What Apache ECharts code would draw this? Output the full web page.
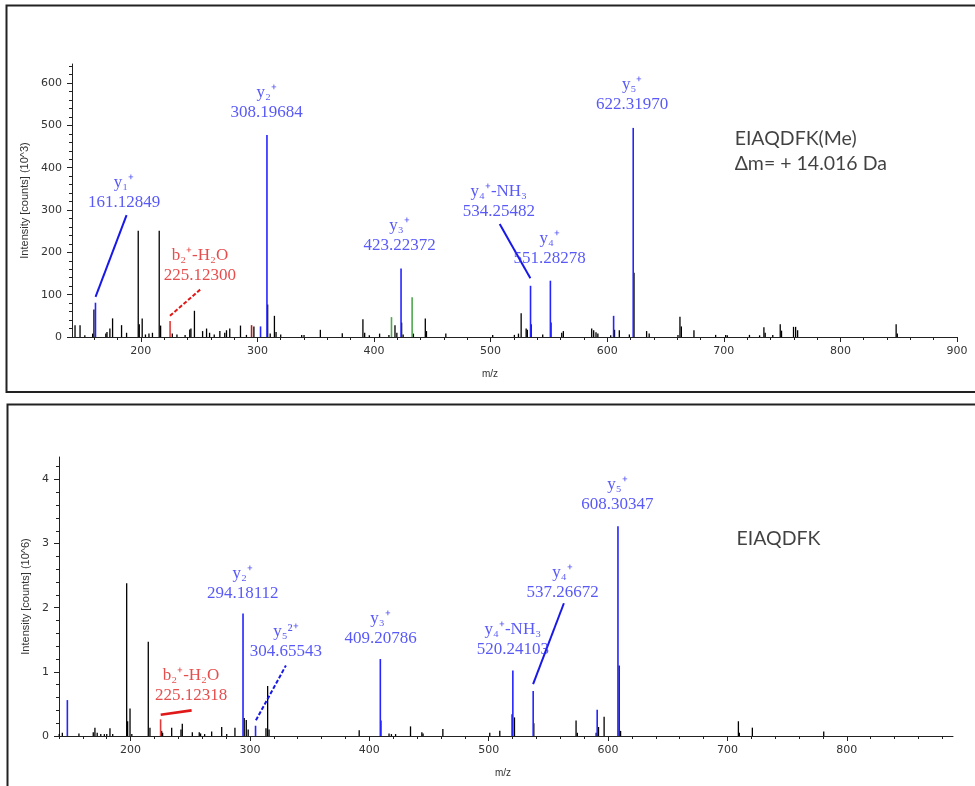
<!DOCTYPE html>
<html>
<head>
<meta charset="utf-8">
<title>EIAQDFK MS/MS spectra</title>
<script src="https://cdn.jsdelivr.net/npm/echarts@6.0.0/dist/echarts.min.js"></script>
<style>
html,body{margin:0;padding:0;background:#fff;}
#chart{width:975px;height:786px;}
</style>
</head>
<body>
<div id="chart"></div>
<script>
// ---- top spectrum: EIAQDFK(Me), intensity in 10^3 counts ----
var topBlack = [
  [143.6,28],[147.9,28],[152,4],[158.7,8],[159.8,65],[170,8],[171,12],[173.5,20],[175.8,44],
  [183.5,28],[187.8,10],[197.8,251],[198.7,30],[201.2,44],[204,6],[207,8],[210,10],[215.8,251],
  [217,27],[227,8],[231,6],[238,5],[242,18],[243,20],[246,62],[253,14],[256.4,20],[259,10],
  [263,6],[267.8,14],[272,10],[273.5,16],[276.3,20],[285.5,27],[290.6,5],[297,25],[308.8,77],
  [311,8],[314.6,50],[316,12],[320,6],[338,5],[340,5],[354,17],[372.8,9],[390.5,42],[392,10],
  [396,4],[404.8,8],[412.8,5],[418,28],[419.6,10],[423.7,34],[425,6],[433.8,8],[444,44],[445,14],
  [461.6,8],[501.8,5],[520.4,5],[523.9,8],[526.2,56],[530.5,20],[531.5,17],[534.8,30],[544.7,6],
  [551.8,34],[561,10],[562.4,14],[586.7,20],[588.4,16],[590.4,11],[592,8],[603,4],[606.3,17],
  [610.4,16],[619,6],[623,152],[633.8,14],[636,8],[660.7,5],[662.4,48],[663.6,25],[674.4,16],
  [693,5],[701.6,5],[703,4],[722,5],[730.7,4],[734.4,23],[735.5,10],[742,5],[748.4,30],[749.5,15],
  [759.8,24],[761.6,24],[763.3,16],[847.8,30],[848.8,8]
];
var topBlue = [[161.13,81],[302.7,25],[308.2,477],[423.2,162],[534.25,121],[551.28,133],[605.5,50],[622.32,494]];
var topRed = [[225.12,38]];
var topDarkRed = [[295,28]];
var topGreen = [[415,47],[432.7,94]];
// annotation anchors: [m/z, intensity, ion, mass]
var topLabels = [
  [185.6,341,'y₁⁺','161.12849'],
  [307.9,555,'y₂⁺','308.19684'],
  [250.7,169,'b₂⁺-H₂O','225.12300'],
  [421.9,239,'y₃⁺','423.22372'],
  [507,319,'y₄⁺-NH₃','534.25482'],
  [550.7,208,'y₄⁺','551.28278'],
  [621.4,573,'y₅⁺','622.31970']
];
// leader lines: [m/z from, int from, m/z to, int to, ion type]
var topLeaders = [
  [161.2,95,187.8,288,'y'],
  [225,50,252.2,115,'b'],
  [534.1,139,507.8,267,'y']
];
var topPeptide = [709.3,439,'EIAQDFK(Me)\nΔm= + 14.016 Da'];
var topXTicks = [200,300,400,500,600,700,800,900];
var topYTicks = [0,100,200,300,400,500,600];

// ---- bottom spectrum: EIAQDFK, intensity in 10^6 counts ----
var botBlack = [
  [140.2,0.03],[142.8,0.05],[156.7,0.04],[168.7,0.06],[170.1,0.13],[172,0.05],[175,0.03],[178,0.03],
  [180,0.03],[182.7,0.12],[185,0.03],[196.7,2.38],[197.5,0.23],[199.5,0.43],[201,0.03],[214.8,1.47],
  [216.2,0.13],[226,0.08],[226.8,0.05],[234.4,0.13],[242.2,0.1],[243.3,0.19],[251.7,0.06],[257.5,0.06],
  [258.6,0.04],[262,0.03],[267.9,0.07],[276.3,0.14],[280.5,0.03],[287.4,0.13],[295.2,0.28],[296.9,0.25],
  [298.5,0.1],[313.4,0.12],[314.8,0.78],[316,0.1],[391.5,0.09],[409.7,0.24],[416.5,0.04],[418.5,0.03],
  [422,0.03],[434.5,0.15],[444,0.06],[445,0.04],[461.6,0.11],[500.9,0.05],[509.3,0.08],[519.6,0.34],
  [521.6,0.29],[537.8,0.2],[573.2,0.24],[574.3,0.05],[590,0.05],[592,0.14],[596.7,0.3],[609.3,1.1],
  [610.5,0.08],[709.2,0.23],[710,0.05],[720.9,0.13],[780.7,0.07]
];
var botBlue = [[147,0.56],[294.18,1.91],[304.66,0.16],[409.21,1.2],[520.24,1.02],[537.27,0.7],[590.9,0.41],[608.3,3.27]];
var botRed = [[225.12,0.26]];
var botLabels = [
  [293.9,2.38,'y₂⁺','294.18112'],
  [330.1,1.47,'y₅²⁺','304.65543'],
  [250.6,0.78,'b₂⁺-H₂O','225.12318'],
  [409.4,1.68,'y₃⁺','409.20786'],
  [520.2,1.51,'y₄⁺-NH₃','520.24103'],
  [561.9,2.4,'y₄⁺','537.26672'],
  [607.8,3.76,'y₅⁺','608.30347']
];
var botLeaders = [
  [225.2,0.33,251.1,0.4,'b'],
  [305,0.245,330.1,1.1,'y'],
  [537.2,0.81,563,2.07,'y']
];
var botPeptide = [707.6,3.07,'EIAQDFK'];
var botXTicks = [200,300,400,500,600,700,800];
var botYTicks = [0,1,2,3,4];

var BLUE = '#2424ff', BLUE_TEXT = '#2f2ff5', RED = '#e03a3a', RED_TEXT = '#e02020';
var AXIS = '#222';

function minorTicks(min, max, step, majorStep) {
  var out = [];
  for (var v = Math.ceil(min / step) * step; v <= max + 1e-9; v += step) {
    var r = v / majorStep;
    if (Math.abs(r - Math.round(r)) > 1e-6) out.push(+v.toFixed(4));
  }
  return out;
}

function renderPeak(params, api) {
  var top = api.coord([api.value(0), api.value(1)]);
  var base = api.coord([api.value(0), 0]);
  return {
    type: 'line',
    shape: {x1: top[0], y1: top[1], x2: base[0], y2: base[1]},
    style: {stroke: api.visual('color'), lineWidth: params.seriesName === 'black' ? 1.3 : 1.6}
  };
}

function peaks(name, data, color, xi, yi) {
  return {
    name: name, type: 'custom', xAxisIndex: xi, yAxisIndex: yi,
    renderItem: renderPeak, itemStyle: {color: color}, data: data,
    encode: {x: 0, y: 1}, silent: true
  };
}

function labelSeries(labels, leaders, dashes, xi, yi) {
  return {
    type: 'scatter', xAxisIndex: xi, yAxisIndex: yi, symbolSize: 0, silent: true, z: 5,
    data: labels.map(function (a) {
      var red = a[2].charAt(0) === 'b';
      return {
        value: [a[0], a[1]], name: a[2] + '\n' + a[3],
        label: {color: red ? RED_TEXT : BLUE_TEXT}
      };
    }),
    label: {
      show: true, position: [0, 0], align: 'center', verticalAlign: 'middle',
      formatter: '{b}', fontFamily: 'Liberation Serif', fontSize: 17, lineHeight: 20
    },
    markLine: {
      silent: true, symbol: 'none', animation: false,
      label: {show: false},
      data: leaders.map(function (l, i) {
        var red = l[4] === 'b';
        return [
          {coord: [l[0], l[1]], lineStyle: {color: red ? '#e01818' : '#1818e8', width: red && !dashes[i] ? 2.6 : 2, type: dashes[i] ? [4, 2] : 'solid'}},
          {coord: [l[2], l[3]]}
        ];
      })
    }
  };
}

function peptideSeries(p, xi, yi) {
  return {
    type: 'scatter', xAxisIndex: xi, yAxisIndex: yi, symbolSize: 0, silent: true,
    data: [{value: [p[0], p[1]], name: p[2]}],
    label: {
      show: true, position: [0, 0], align: 'left', verticalAlign: 'middle', formatter: '{b}',
      fontFamily: 'Lato', fontSize: 19.5, lineHeight: 25, color: '#111'
    }
  };
}

function xAxes(grid, min, max, majors, name, padRight) {
  return [{
    type: 'value', gridIndex: grid, min: min, max: max, position: 'bottom',
    axisLine: {show: true, onZero: false, lineStyle: {color: AXIS, width: 1}},
    axisTick: {show: true, customValues: majors, length: 5, lineStyle: {color: AXIS}},
    axisLabel: {customValues: majors, margin: 9, fontFamily: 'DejaVu Sans', fontSize: 11, color: '#333'},
    splitLine: {show: false},
    name: name, nameLocation: 'middle', nameGap: 32,
    nameTextStyle: {fontFamily: 'Liberation Sans', fontSize: 10, color: '#333', padding: [0, padRight, 0, 0]}
  }, {
    type: 'value', gridIndex: grid, min: min, max: max, position: 'bottom',
    axisLine: {show: false, onZero: false},
    axisTick: {show: true, customValues: minorTicks(min, max, 20, 100), length: 3, lineStyle: {color: AXIS}},
    axisLabel: {show: false}, splitLine: {show: false}
  }];
}

function yAxes(grid, max, majors, minorStep, majorStep, name, gap) {
  return [{
    type: 'value', gridIndex: grid, min: 0, max: max, position: 'left',
    axisLine: {show: true, onZero: false, lineStyle: {color: AXIS, width: 1}},
    axisTick: {show: true, customValues: majors, length: 5, lineStyle: {color: AXIS}},
    axisLabel: {customValues: majors, margin: 10, fontFamily: 'DejaVu Sans', fontSize: 11, color: '#333'},
    splitLine: {show: false},
    name: name, nameLocation: 'middle', nameRotate: 90, nameGap: gap,
    nameTextStyle: {fontFamily: 'Liberation Sans', fontSize: 11, color: '#333'}
  }, {
    type: 'value', gridIndex: grid, min: 0, max: max, position: 'left',
    axisLine: {show: false, onZero: false},
    axisTick: {show: true, customValues: minorTicks(0, max, minorStep, majorStep), length: 3, lineStyle: {color: AXIS}},
    axisLabel: {show: false}, splitLine: {show: false}
  }];
}

var chart = echarts.init(document.getElementById('chart'), null, {renderer: 'canvas'});
chart.setOption({
  animation: false,
  backgroundColor: '#fff',
  grid: [
    {left: 72, right: 18, top: 64, bottom: 449},
    {left: 59, right: 22, top: 457, bottom: 50}
  ],
  xAxis: xAxes(0, 141, 900, topXTicks, 'm/z', 49).concat(xAxes(1, 140, 889, botXTicks, 'm/z', 6)),
  yAxis: yAxes(0, 645, topYTicks, 20, 100, 'Intensity [counts] (10^3)', 40)
    .concat(yAxes(1, 4.35, botYTicks, 0.2, 1, 'Intensity [counts] (10^6)', 27)),
  graphic: [
    {type: 'rect', shape: {x: 6.5, y: 5.5, width: 1000, height: 386.5}, style: {fill: 'none', stroke: '#222', lineWidth: 2}, silent: true},
    {type: 'rect', shape: {x: 7.5, y: 404.5, width: 1000, height: 400}, style: {fill: 'none', stroke: '#222', lineWidth: 2}, silent: true}
  ],
  series: [
    peaks('black', topBlack, '#000', 0, 0),
    peaks('green', topGreen, '#4fa84f', 0, 0),
    peaks('darkred', topDarkRed, '#a82020', 0, 0),
    peaks('red', topRed, RED, 0, 0),
    peaks('blue', topBlue, BLUE, 0, 0),
    labelSeries(topLabels, topLeaders, [false, true, false], 0, 0),
    peptideSeries(topPeptide, 0, 0),
    peaks('black', botBlack, '#000', 2, 2),
    peaks('red', botRed, RED, 2, 2),
    peaks('blue', botBlue, BLUE, 2, 2),
    labelSeries(botLabels, botLeaders, [false, true, false], 2, 2),
    peptideSeries(botPeptide, 2, 2)
  ]
});
</script>
</body>
</html>
